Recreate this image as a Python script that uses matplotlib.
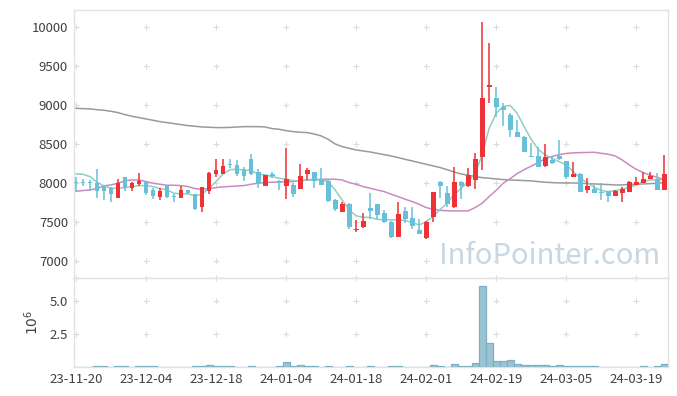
"""Candlestick chart with moving averages and volume"""
import matplotlib
matplotlib.use('Agg')
import matplotlib.pyplot as plt
import numpy as np

plt.rcParams['font.family'] = ['Noto Sans CJK KR', 'DejaVu Sans']

"""Tick labels (every 10 trading days)"""
tick_labels = ['23-11-20', '23-12-04', '23-12-18', '24-01-04', '24-01-18',
               '24-02-01', '24-02-19', '24-03-05', '24-03-19']

"""Daily prices read off the chart"""
opens = [8010, 8010, 8010, 8000, 7950, 7930, 7810, 8075, 7930, 7990,
         8015, 7910, 7820, 7960, 7830, 7810, 7910, 7855, 7685, 7890,
         8120, 8110, 8245, 8230, 8160, 8305, 8140, 7966, 8115, 8015,
         7955, 7975, 7925, 8110, 8135, 8050, 8028, 7782, 7630, 7730,
         7395, 7430, 7675, 7730, 7610, 7500, 7300, 7640, 7548, 7397,
         7290, 7560, 8009, 7868, 7690, 8009, 7955, 8035, 8328, 9235,
         9086, 8979, 8872, 8655, 8594, 8348, 8346, 8218, 8290, 8346,
         8280, 8081, 8120, 7910, 7921, 7875, 7891, 7838, 7868, 7889,
         7974, 8004, 8047, 8051, 7910]
highs = [8080, 8045, 8040, 8175, 7975, 7950, 8055, 8080, 8015, 8125,
         8030, 7940, 7930, 7975, 7855, 7955, 7915, 7860, 7950, 8145,
         8305, 8305, 8310, 8290, 8200, 8370, 8180, 8105, 8140, 8035,
         8445, 8005, 8240, 8190, 8140, 8190, 8050, 7790, 7750, 7740,
         7520, 7610, 7865, 7735, 7655, 7515, 7750, 7690, 7685, 7540,
         7515, 7885, 8026, 7960, 8200, 8020, 8190, 8390, 10060, 9790,
         9235, 9030, 8900, 8808, 8600, 8517, 8466, 8496, 8340, 8550,
         8282, 8262, 8130, 8060, 7975, 7996, 7893, 7905, 7953, 8030,
         8080, 8145, 8140, 8124, 8359]
lows = [7890, 7960, 7890, 7805, 7780, 7760, 7810, 7900, 7890, 7960,
        7850, 7790, 7775, 7800, 7750, 7800, 7855, 7655, 7625, 7860,
        8070, 8110, 8185, 8095, 8030, 8100, 7935, 7955, 8060, 7910,
        7795, 7825, 7920, 8040, 7930, 7970, 7760, 7640, 7625, 7415,
        7370, 7425, 7540, 7535, 7480, 7290, 7300, 7480, 7405, 7340,
        7285, 7496, 7803, 7697, 7675, 7795, 7950, 7920, 8160, 9020,
        8850, 8735, 8594, 8594, 8400, 8327, 8199, 8209, 8240, 8290,
        8050, 8081, 7889, 7868, 7870, 7775, 7761, 7830, 7761, 7889,
        7974, 8004, 8047, 7910, 7910]
closes = [8000, 8000, 7995, 7890, 7890, 7860, 8000, 7930, 8000, 8020,
          7865, 7830, 7895, 7815, 7820, 7910, 7875, 7670, 7945, 8125,
          8170, 8220, 8235, 8110, 8095, 8120, 8000, 8100, 8085, 8005,
          8050, 7860, 8090, 8170, 8020, 7975, 7770, 7665, 7730, 7440,
          7410, 7515, 7645, 7590, 7495, 7312, 7600, 7540, 7452, 7350,
          7495, 7880, 7955, 7728, 8009, 7955, 8100, 8305, 9086, 9255,
          8968, 8936, 8684, 8594, 8402, 8327, 8199, 8334, 8250, 8303,
          8081, 8109, 7889, 7964, 7876, 7865, 7838, 7895, 7921, 8017,
          8017, 8051, 8094, 7910, 8115]

"""Moving average lines read off the chart"""
ma_short = [8115, 8111, 8081, 8009, 7962, 7932, 7932, 7940, 7953, 7966,
            7966, 7953, 7927, 7910, 7868, 7859, 7859, 7833, 7855, 7932,
            8017, 8115, 8170, 8175, 8167, 8158, 8115, 8103, 8081, 8060,
            8047, 8030, 8026, 8038, 8051, 8038, 8017, 7910, 7782, 7654,
            7577, 7560, 7556, 7534, 7526, 7526, 7526, 7517, 7491, 7461,
            7500, 7570, 7660, 7740, 7850, 7930, 8020, 8124, 8359, 8701,
            8893, 8979, 8995, 8893, 8722, 8560, 8432, 8359, 8316, 8273,
            8231, 8145, 8060, 8004, 7944, 7902, 7889, 7902, 7919, 7944,
            7974, 8017, 8038, 8038, 8047]
ma_mid = [7893, 7902, 7910, 7927, 7962, 7974, 7996, 8026, 8038, 8038,
          8017, 7996, 7983, 7970, 7970, 7966, 7953, 7927, 7919, 7927,
          7940, 7949, 7955, 7960, 7966, 7983, 7996, 8004, 8009, 8013,
          8017, 8017, 8026, 8038, 8038, 8047, 8047, 8047, 8038, 8004,
          7983, 7953, 7932, 7910, 7889, 7855, 7825, 7791, 7761, 7726,
          7684, 7662, 7648, 7643, 7641, 7641, 7641, 7684, 7739, 7825,
          7905, 7995, 8055, 8120, 8170, 8215, 8260, 8310, 8340, 8362,
          8378, 8385, 8389, 8391, 8393, 8380, 8368, 8346, 8295, 8231,
          8175, 8132, 8098, 8073, 8038]
ma_long = [8957, 8953, 8949, 8940, 8932, 8919, 8902, 8876, 8855, 8838,
           8821, 8804, 8786, 8774, 8761, 8748, 8735, 8727, 8718, 8714,
           8710, 8710, 8712, 8718, 8722, 8722, 8722, 8718, 8697, 8688,
           8671, 8658, 8650, 8646, 8628, 8603, 8560, 8500, 8466, 8444,
           8423, 8410, 8397, 8380, 8363, 8346, 8325, 8303, 8282, 8261,
           8239, 8218, 8197, 8170, 8140, 8115, 8098, 8081, 8068, 8060,
           8051, 8043, 8038, 8034, 8030, 8026, 8017, 8009, 8004, 8000,
           8000, 8000, 7996, 7991, 7987, 7983, 7979, 7974, 7974, 7979,
           7983, 7987, 7991, 7996, 8004]

"""Volume in millions"""
volume = [0.01, 0.01, 0.01, 0.05, 0.05, 0.01, 0.05, 0.05, 0.01, 0.05,
          0.05, 0.05, 0.01, 0.01, 0.01, 0.01, 0.01, 0.05, 0.05, 0.15,
          0.05, 0.05, 0.05, 0.01, 0.01, 0.05, 0.01, 0.01, 0.01, 0.05,
          0.38, 0.05, 0.15, 0.05, 0.05, 0.01, 0.05, 0.01, 0.01, 0.05,
          0.01, 0.01, 0.05, 0.01, 0.01, 0.05, 0.05, 0.01, 0.01, 0.01,
          0.01, 0.15, 0.05, 0.01, 0.23, 0.05, 0.05, 0.30, 6.16, 1.84,
          0.48, 0.48, 0.56, 0.23, 0.15, 0.15, 0.15, 0.15, 0.08, 0.18,
          0.08, 0.05, 0.05, 0.05, 0.05, 0.01, 0.01, 0.01, 0.01, 0.01,
          0.01, 0.05, 0.01, 0.05, 0.23]

UP = '#ee3236'
DOWN = '#68c0d8'
GRID = '#dcdcdc'
TXT = '#404040'

o = np.array(opens, float)
h = np.array(highs, float)
l = np.array(lows, float)
c = np.array(closes, float)
v = np.array(volume) * 1e6
x = np.arange(len(o))
ticks = np.arange(0, 10 * len(tick_labels), 10)

fig = plt.figure(figsize=(6.77, 3.96), dpi=100)
ax = fig.add_axes([0.1086, 0.298, 0.8777, 0.677])
axv = fig.add_axes([0.1086, 0.0732, 0.8777, 0.2248], sharex=ax)

"""Price pane"""
ax.plot(x, ma_long, color='#9a9a9a', lw=1.1, zorder=2)
ax.plot(x, ma_mid, color='#c98ac3', lw=1.1, zorder=2)
ax.plot(x, ma_short, color='#8fcfc3', lw=1.1, zorder=2)

up = c >= o
cols = np.where(up, UP, DOWN)
ax.vlines(x, l, h, colors=cols, lw=1.1, zorder=3)
body = np.maximum(np.abs(c - o), 14)
ax.bar(x, body, bottom=np.minimum(o, c), width=0.7, color=cols, lw=0, zorder=4)

ax.set_ylim(6780, 10220)
ax.set_yticks([7000, 7500, 8000, 8500, 9000, 9500, 10000])
gx, gy = np.meshgrid(ticks, ax.get_yticks())
ax.scatter(gx.ravel(), gy.ravel(), marker='+', s=18, color=GRID, lw=0.8, zorder=1)

ax.text(0.987, 0.083, 'InfoPointer.com', transform=ax.transAxes, ha='right', va='center',
        fontsize=21, color='#c8d8e2', zorder=0)

"""Volume pane"""
axv.bar(x, v, width=1.0, color='#9bc4d3', edgecolor='#7eaec2', lw=0.9, zorder=3)
axv.set_ylim(0, 6.75e6)
axv.set_yticks([2.5e6, 5e6])
axv.set_yticklabels(['2.5', '5.0'])
axv.set_ylabel('$10^6$', color=TXT, fontsize=10, labelpad=6)
gx, gy = np.meshgrid(ticks, [2.5e6, 5e6, 6.75e6])
axv.scatter(gx.ravel(), gy.ravel(), marker='+', s=18, color=GRID, lw=0.8, zorder=1, clip_on=False)

axv.set_xlim(-0.35, 84.5)
axv.set_xticks(ticks)
axv.set_xticklabels(tick_labels)
plt.setp(ax.get_xticklabels(), visible=False)

for a in (ax, axv):
    a.tick_params(length=0, labelsize=9.5, colors=TXT, pad=4)
    for s in a.spines.values():
        s.set_color('#e2e2e2')
        s.set_linewidth(1.0)

fig.savefig('out.png', dpi=100)
